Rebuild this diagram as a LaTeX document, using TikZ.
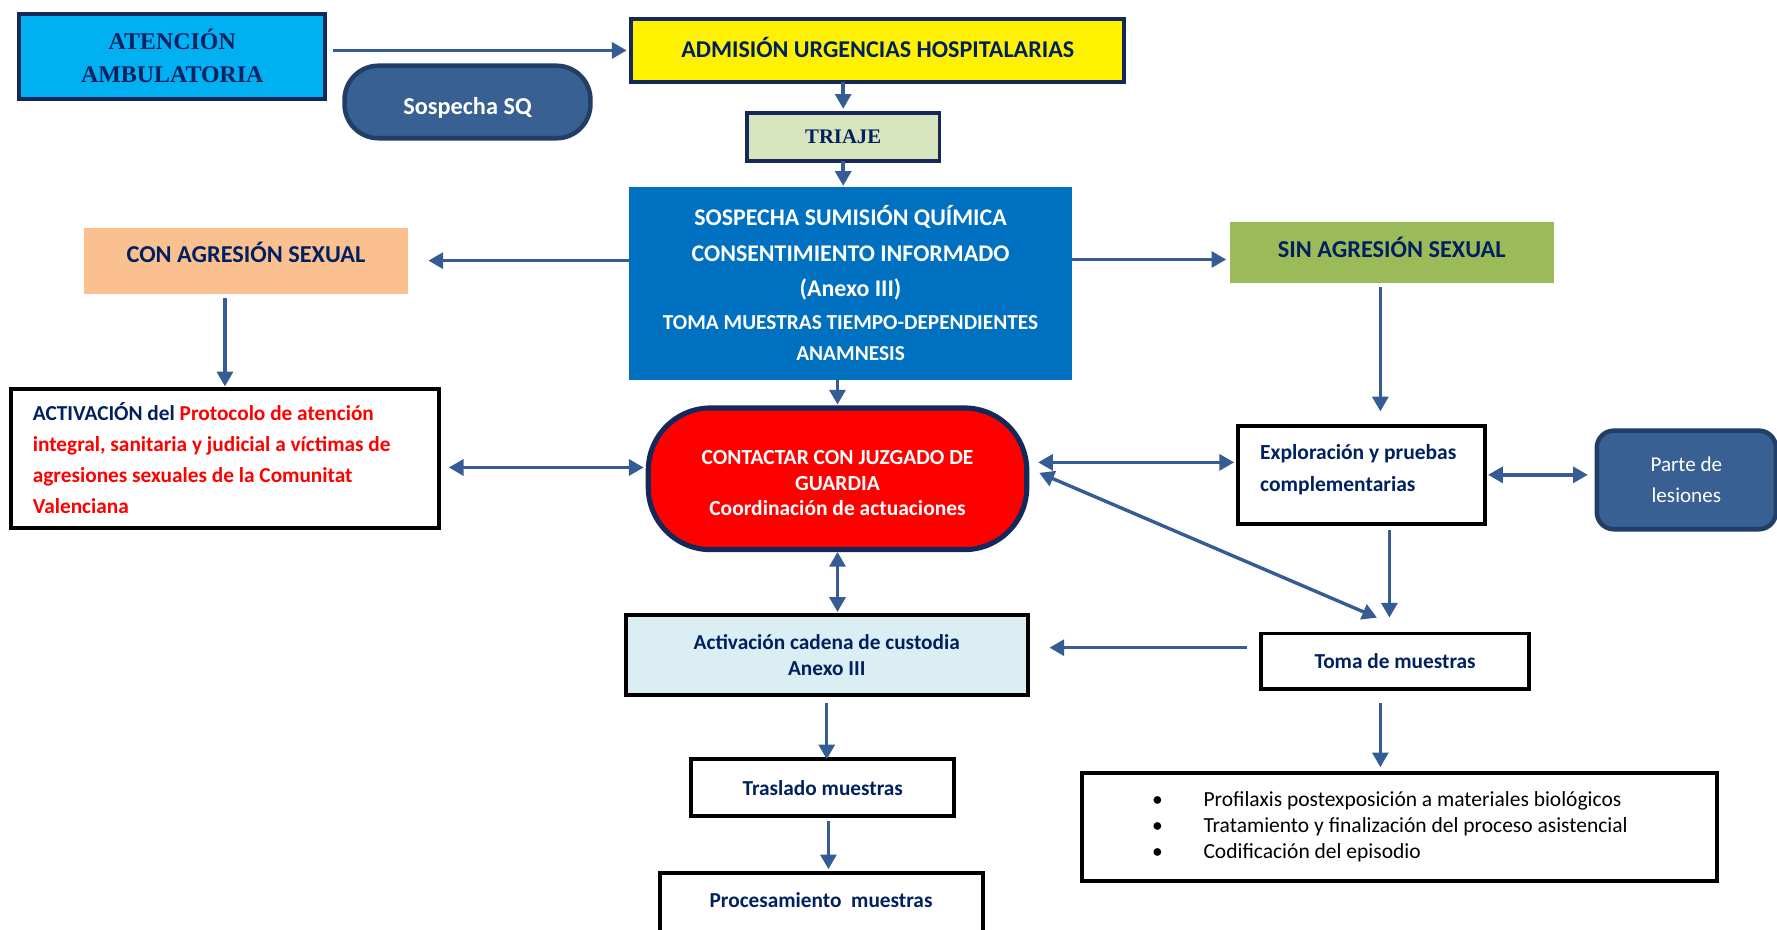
\documentclass[tikz,border=0pt]{standalone}
\usepackage{fontspec}
\setmainfont{Carlito}
\newfontfamily\tnr{Liberation Serif}
\usetikzlibrary{arrows.meta}
\definecolor{navy}{RGB}{0,32,96}
\definecolor{marco}{RGB}{20,40,90}
\definecolor{flechaazul}{RGB}{54,92,150}
\definecolor{cian}{RGB}{0,176,240}
\definecolor{azulsq}{RGB}{56,96,146}
\definecolor{bordesq}{RGB}{35,62,102}
\definecolor{azulfuerte}{RGB}{0,112,192}
\definecolor{naranja}{RGB}{250,192,144}
\definecolor{verde}{RGB}{155,187,89}
\definecolor{verdeclaro}{RGB}{215,228,189}
\definecolor{celeste}{RGB}{218,238,243}

\begin{document}
\begin{tikzpicture}[every node/.style={inner sep=0pt, outer sep=0pt, align=center, text=navy, font=\bfseries\fontsize{5.35}{8}\selectfont},
cabecera/.style={draw=marco, line width=0.035cm},
caja/.style={draw=black, line width=0.035cm, fill=white},
pastilla/.style={draw=bordesq, line width=0.04cm, fill=azulsq, text=white},
flecha/.style={draw=flechaazul, line width=0.03cm, -{Triangle[width=0.14cm,length=0.13cm]}},
doble/.style={flecha, {Triangle[width=0.14cm,length=0.13cm]}-{Triangle[width=0.14cm,length=0.13cm]}}]
\useasboundingbox[fill=white] (0,0) rectangle (15.68,8.20);

\node[cabecera, fill=cian, minimum width=2.70cm, minimum height=0.75cm, font=\tnr\bfseries\fontsize{6}{8.3}\selectfont] (amb) at (1.52,7.705) {ATENCIÓN\\AMBULATORIA};
\node[pastilla, rounded corners=0.3cm, minimum width=2.17cm, minimum height=0.64cm, font=\bfseries\fontsize{6.1}{7}\selectfont] (sq) at (4.125,7.30) {\raisebox{-0.05cm}[\height][\depth]{Sospecha SQ}};
\node[cabecera, fill=yellow, minimum width=4.35cm, minimum height=0.55cm, font=\bfseries\fontsize{6.05}{7}\selectfont] (adm) at (7.745,7.755) {\raisebox{0.03cm}[\height][\depth]{ADMISIÓN URGENCIAS HOSPITALARIAS}};
\node[cabecera, fill=verdeclaro, minimum width=1.70cm, minimum height=0.42cm, font=\tnr\bfseries\fontsize{5.2}{6}\selectfont] (triaje) at (7.44,6.99) {TRIAJE};
\node[fill=azulfuerte, minimum width=3.91cm, minimum height=1.70cm, text=white, font=\bfseries\fontsize{6}{8.8}\selectfont] (sos) at (7.505,5.70) {SOSPECHA SUMISIÓN QUÍMICA\\CONSENTIMIENTO INFORMADO\\(Anexo III)\\[-0.3pt]{\fontsize{5.35}{8}\selectfont TOMA MUESTRAS TIEMPO-DEPENDIENTES}\\[-1.1pt]{\fontsize{5.35}{8}\selectfont ANAMNESIS}};
\node[fill=naranja, minimum width=2.86cm, minimum height=0.58cm, font=\bfseries\fontsize{6.1}{7}\selectfont] (con) at (2.17,5.90) {\raisebox{0.07cm}[\height][\depth]{CON AGRESIÓN SEXUAL}};
\node[fill=verde, minimum width=2.86cm, minimum height=0.54cm, font=\bfseries\fontsize{6.1}{7}\selectfont] (sin) at (12.28,5.97) {\raisebox{0.05cm}[\height][\depth]{SIN AGRESIÓN SEXUAL}};

\node[caja, minimum width=3.77cm, minimum height=1.23cm, align=flush left, text width=3.39cm, font=\bfseries\fontsize{5.35}{7.8}\selectfont] (act) at (1.985,4.155) {ACTIVACIÓN del {\color{red}Protocolo de atención\\integral, sanitaria y judicial a víctimas de\\agresiones sexuales de la Comunitat\\Valenciana}};
\node[fill=red, draw=marco, line width=0.045cm, rounded corners=0.55cm, minimum width=3.34cm, minimum height=1.25cm, text=white, font=\bfseries\fontsize{5.4}{6.5}\selectfont] (jz) at (7.39,3.975) {\rule{0pt}{0.20cm}CONTACTAR CON JUZGADO DE\\GUARDIA\\Coordinación de actuaciones};
\node[caja, minimum width=2.18cm, minimum height=0.86cm, align=flush left, text width=1.78cm, font=\bfseries\fontsize{5.4}{8}\selectfont] (exp) at (12.01,4.01) {Exploración y pruebas\\complementarias\rule[-0.12cm]{0pt}{0.12cm}};
\node[pastilla, rounded corners=0.15cm, minimum width=1.58cm, minimum height=0.87cm, font=\fontsize{5.3}{7.7}\selectfont] (parte) at (14.88,3.965) {Parte de\\lesiones};

\node[caja, fill=celeste, minimum width=3.55cm, minimum height=0.70cm, font=\bfseries\fontsize{5.35}{6.5}\selectfont] (cad) at (7.295,2.42) {Activación cadena de custodia\\Anexo III};
\node[caja, minimum width=2.36cm, minimum height=0.49cm] (toma) at (12.31,2.365) {Toma de muestras};
\node[caja, minimum width=2.32cm, minimum height=0.50cm] (tras) at (7.26,1.25) {Traslado muestras};
\node[caja, minimum width=2.85cm, minimum height=0.60cm] (proc) at (7.245,0.20) {\raisebox{0.06cm}[\height][\depth]{Procesamiento~ muestras}};
\node[caja, minimum width=5.60cm, minimum height=0.95cm, align=flush left, text width=5.60cm, text=black, font=\fontsize{5.4}{6.6}\selectfont] (lista) at (12.35,0.905) {\hspace*{0.615cm}\textbullet\hspace{0.36cm}Profilaxis postexposición a materiales biológicos\\\hspace*{0.615cm}\textbullet\hspace{0.36cm}Tratamiento y finalización del proceso asistencial\\\hspace*{0.615cm}\textbullet\hspace{0.36cm}Codificación del episodio};

\draw[flecha, shorten <=0.07cm, shorten >=0.04cm] (amb.east |- adm.west) -- (adm.west);
\draw[flecha, shorten >=0.04cm] (triaje.north |- adm.south) -- (triaje.north);
\draw[flecha, shorten >=0.01cm] (triaje.south) -- (triaje.south |- sos.north);
\draw[flecha, shorten >=0.18cm] (sos.west |- con.east) -- (con.east);
\draw[flecha, shorten >=0.03cm] ([yshift=-0.06cm]sin.west -| sos.east) -- ([yshift=-0.06cm]sin.west);
\draw[flecha, shorten <=0.04cm, shorten >=0.02cm] (con.south -| act.north) -- (act.north);
\draw[flecha, shorten <=0.03cm, shorten >=0.13cm] ([xshift=-0.1cm]sin.south) -- ([xshift=-0.1cm]sin.south |- exp.north);
\draw[flecha, shorten >=0.03cm] (sos.south -| jz.north) -- (jz.north);
\draw[doble, shorten <=0.09cm, shorten >=0.04cm] ([yshift=-0.08cm]act.east) -- ([yshift=-0.08cm]act.east -| jz.west);
\draw[doble, shorten <=0.1cm, shorten >=0.03cm] ([yshift=0.11cm]exp.west -| jz.east) -- ([yshift=0.11cm]exp.west);
\draw[doble, shorten <=0.12cm] ([yshift=0.1cm]jz.east) -- ([xshift=-0.16cm,yshift=0.14cm]toma.north);
\draw[flecha, shorten <=0.06cm, shorten >=0.14cm] ([xshift=-0.05cm]toma.north |- exp.south) -- ([xshift=-0.05cm]toma.north);
\draw[doble, shorten <=0.03cm, shorten >=0.08cm] (exp.east) -- (exp.east -| parte.west);
\draw[doble, shorten <=0.02cm, shorten >=0.03cm] (jz.south) -- (jz.south |- cad.north);
\draw[flecha, shorten <=0.13cm, shorten >=0.19cm] ([yshift=0.12cm]toma.west) -- ([yshift=0.12cm]toma.west -| cad.east);
\draw[flecha, shorten <=0.07cm] (cad.south) -- (cad.south |- tras.north);
\draw[flecha, shorten <=0.04cm, shorten >=0.03cm] ([xshift=0.05cm]tras.south) -- ([xshift=0.05cm]tras.south |- proc.north);
\draw[flecha, shorten <=0.12cm, shorten >=0.05cm] ([xshift=-0.13cm]toma.south) -- ([xshift=-0.13cm]toma.south |- lista.north);
\end{tikzpicture}
\end{document}
